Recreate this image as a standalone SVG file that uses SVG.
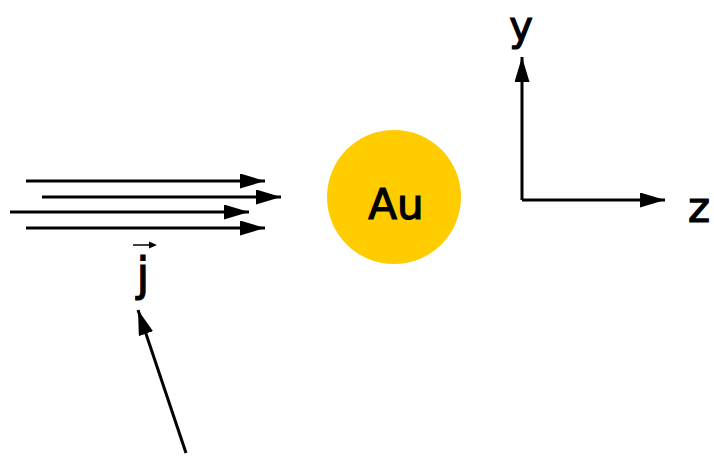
<svg xmlns="http://www.w3.org/2000/svg" width="714" height="458" viewBox="0 0 714 458">
<style>
.ln{stroke:#000;stroke-width:3;fill:none;marker-end:url(#ah)}
.lbl{font-family:"DejaVu Sans","Liberation Sans",sans-serif;fill:#000;stroke:#000;stroke-width:1.2}
</style>
<defs>
<marker id="ah" markerUnits="userSpaceOnUse" markerWidth="26" markerHeight="16" refX="25" refY="7.5" orient="auto">
<path d="M0,0 L25,7.5 L0,15 z" fill="#000"/>
</marker>
</defs>
<rect width="714" height="458" fill="#fff"/>
<g id="au">
<circle cx="394" cy="197" r="67" fill="#FFCC00"/>
<text class="lbl" x="396" y="219" font-size="42" text-anchor="middle">Au</text>
</g>
<g id="current">
<text class="lbl" x="143" y="290" font-size="46" text-anchor="middle">j</text>
<path d="M133,245 H151" stroke="#000" stroke-width="1.5"/>
<path d="M149,241.5 L157,245 L149,248.5 z" fill="#000"/>
</g>
<g id="ylabel"><text class="lbl" x="521" y="40" font-size="40" text-anchor="middle">y</text></g>
<g id="zlabel"><text class="lbl" x="699" y="222" font-size="42" text-anchor="middle">z</text></g>
<g id="connectors">
<line class="ln" x1="26" y1="181" x2="265" y2="181"/>
<line class="ln" x1="42" y1="197" x2="281" y2="197"/>
<line class="ln" x1="10" y1="212" x2="249" y2="212"/>
<line class="ln" x1="26" y1="228" x2="265" y2="228"/>
<line class="ln" x1="522" y1="200" x2="522" y2="57"/>
<line class="ln" x1="522" y1="200" x2="665" y2="200"/>
<line class="ln" x1="186" y1="453" x2="138" y2="310"/>
</g>
</svg>
